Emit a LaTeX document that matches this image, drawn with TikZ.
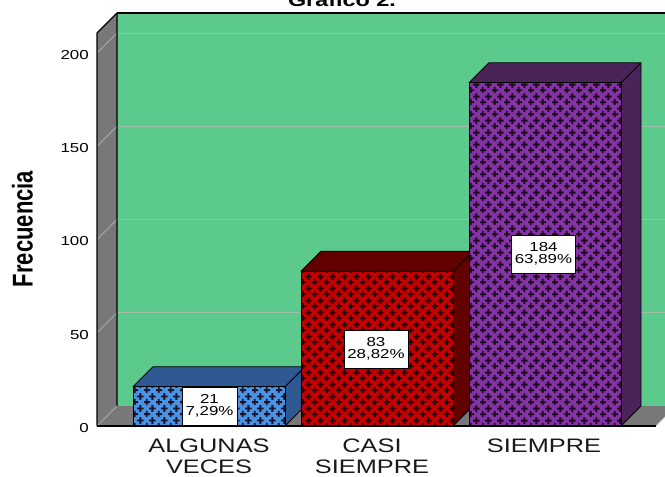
\documentclass[tikz,border=0pt]{standalone}
\usepackage{fontspec}
\setmainfont{Liberation Sans}
\newfontfamily\widefont[FakeStretch=1.3]{Liberation Sans}
\usetikzlibrary{patterns.meta}

\definecolor{wallgreen}{RGB}{92,201,141}
\definecolor{wallgray}{RGB}{120,120,120}
\definecolor{gridgreen}{RGB}{160,188,170}
\definecolor{gridside}{RGB}{170,170,170}
\definecolor{bluefront}{RGB}{74,146,228}
\definecolor{bluedark}{RGB}{46,88,145}
\definecolor{redfront}{RGB}{196,0,0}
\definecolor{reddark}{RGB}{98,0,0}
\definecolor{purplefront}{RGB}{130,52,164}
\definecolor{purpledark}{RGB}{74,35,88}
\definecolor{patdark}{RGB}{20,0,10}

\pgfdeclarepattern{
  name=plusgrid, type=uncolored,
  bottom left={\pgfpoint{0pt}{0pt}}, top right={\pgfpoint{12pt}{12pt}},
  tile size={\pgfpoint{12pt}{12pt}},
  code={
    \pgfsetlinewidth{2pt}
    \pgfpathmoveto{\pgfpoint{-0.6pt}{3pt}}\pgfpathlineto{\pgfpoint{6.6pt}{3pt}}
    \pgfpathmoveto{\pgfpoint{3pt}{-0.6pt}}\pgfpathlineto{\pgfpoint{3pt}{6.6pt}}
    \pgfpathmoveto{\pgfpoint{5.4pt}{9pt}}\pgfpathlineto{\pgfpoint{12.6pt}{9pt}}
    \pgfpathmoveto{\pgfpoint{9pt}{5.4pt}}\pgfpathlineto{\pgfpoint{9pt}{12.6pt}}
    \pgfusepath{stroke}
  }
}

% #1 left x of front face, #2 top y of front face, #3 front colour, #4 dark colour
\newcommand\chartbar[4]{%
  \filldraw[fill=#4, draw=black, line width=0.8pt]
    (#1+152,#2) -- ++(20,-20) -- (#1+172,406) -- (#1+152,426) -- cycle;
  \filldraw[fill=#4, draw=black, line width=0.8pt]
    (#1,#2) -- ++(20,-20) -- ++(152,0) -- (#1+152,#2) -- cycle;
  \fill[#3] (#1,#2) rectangle (#1+152,426);
  \fill[pattern=plusgrid, pattern color=patdark, fill opacity=0.85] (#1,#2) rectangle (#1+152,426);
  \draw[black, line width=0.8pt] (#1,#2) rectangle (#1+152,426);
}

\tikzset{
  vlabel/.style={draw=black, fill=white, line width=0.6pt, align=center,
    font=\widefont\fontsize{13}{12.5}\selectfont, minimum height=38pt,
    inner xsep=3.5pt, inner ysep=0pt},
  ticklabel/.style={anchor=east, inner sep=0pt, font=\widefont\fontsize{13}{13}\selectfont},
  catlabel/.style={anchor=north, inner sep=0pt, align=center,
    font=\widefont\fontsize{19.5}{21}\selectfont, text=black!90}
}

\begin{document}
\begin{tikzpicture}[x=1pt,y=-1pt,line join=round]
\useasboundingbox (0,0) rectangle (665,477);
\clip (0,0) rectangle (665,477);

% title (cut off at top, as in the reference)
\node[anchor=base, inner sep=0pt, font=\widefont\bfseries\fontsize{18}{18}\selectfont] (title) at (342,6) {Gráfico 2.};

% back wall
\fill[wallgreen] (117,13) rectangle (700,406);
\foreach \v in {50,100,150,200} {
  \draw[gridgreen, line width=1pt] (117,{426-1.865*\v-20}) -- (700,{426-1.865*\v-20});
}
\draw[black, line width=1.2pt] (117,13) -- (700,13);

% left wall
\fill[wallgray] (97,33) -- (117,13) -- (117,406) -- (97,426) -- cycle;
\foreach \v in {50,100,150,200} {
  \draw[gridside, line width=0.8pt] (97,{426-1.865*\v}) -- (117,{426-1.865*\v-20});
}
\draw[black, line width=1.2pt] (97,426) -- (97,33) -- (117,13) -- (117,406);

% floor
\fill[wallgray] (97,426) -- (117,406) -- (676,406) -- (656,426) -- cycle;
\draw[gridside, line width=0.8pt] (97,426) -- (117,406);
\draw[gridside!60!white, line width=0.8pt] (656,426) -- (676,406);

% bars
\chartbar{133}{386.8}{bluefront}{bluedark}
\chartbar{301}{271.2}{redfront}{reddark}
\chartbar{469}{82.8}{purplefront}{purpledark}

% front floor edge
\draw[black, line width=1.8pt] (97,426) -- (656,426);

% value labels
\node[vlabel] (v1) at (209.5,406) {21\\7,29\%};
\node[vlabel] (v2) at (376,349) {83\\28,82\%};
\node[vlabel] (v3) at (543.5,254) {184\\63,89\%};

% axis tick labels
\node[ticklabel] (t0) at (89,428) {0};
\node[ticklabel] (t50) at (89,{426-1.865*50+2}) {50};
\node[ticklabel] (t100) at (89,{426-1.865*100+2}) {100};
\node[ticklabel] (t150) at (89,{426-1.865*150+2}) {150};
\node[ticklabel] (t200) at (89,{426-1.865*200+2}) {200};

% axis title
\node[inner sep=0pt, font=\bfseries\fontsize{22}{22}\selectfont, xscale=1.3, rotate=90] (ylab) at (22.5,229) {Frecuencia};

% category labels
\node[catlabel] (c1) at (209,439) {ALGUNAS\\VECES};
\node[catlabel] (c2) at (372,439) {CASI\\SIEMPRE};
\node[catlabel] (c3) at (544,439) {SIEMPRE};
\end{tikzpicture}
\end{document}
